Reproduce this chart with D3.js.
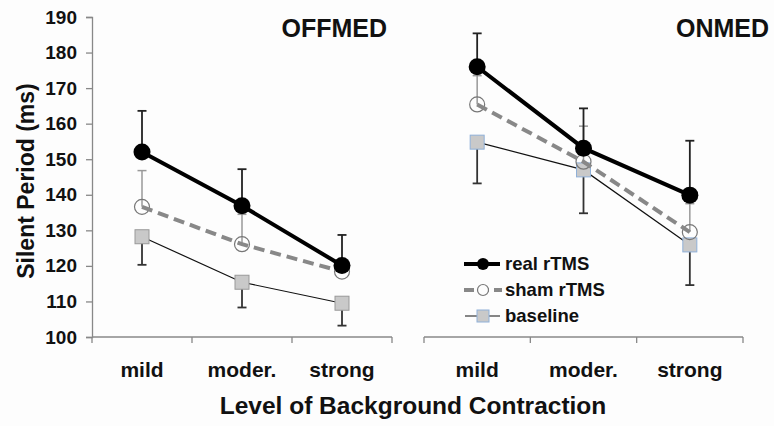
<!DOCTYPE html>
<html><head><meta charset="utf-8">
<script src="https://cdn.jsdelivr.net/npm/d3@7"></script>
<style>body{margin:0;background:#fdfdfd}svg{display:block}text{font-family:"Liberation Sans",Arial,sans-serif;font-weight:bold;fill:#111}</style>
</head><body><svg id="c" width="774" height="426"></svg>
<script>
const categories = ["mild","moder.","strong"];
const panels = ["OFFMED","ONMED"];
const yTicks = [100,110,120,130,140,150,160,170,180,190];
// OFFMED
const offReal = [152,136.9,120.1];
const offRealErr = [163.6,147.2,128.7];
const offSham = [136.6,126.1,118.4];
const offShamErr = [146.8,134.5,120.5];
const offBase = [128.2,115.4,109.5];
const offBaseErr = [120.3,108.3,103.2];
// ONMED
const onReal = [176,153.1,139.9];
const onRealErr = [185.4,164.3,155.2];
const onSham = [165.4,149.3,129.5];
const onShamErr = [173.5,159.3,137.5];
const onBase = [154.8,147,125.9];
const onBaseErr = [143.2,134.8,114.6];
const legendLabels = ["real rTMS","sham rTMS","baseline"];

const svg = d3.select("#c");
const y = d3.scaleLinear().domain([100,190]).range([337,17]);
const xL = d3.scaleBand().domain(categories).range([92,392]);
const xR = d3.scaleBand().domain(categories).range([424,743]);

// y axis
const ya = svg.append("g").attr("transform","translate(92,0)")
  .call(d3.axisLeft(y).tickValues(yTicks).tickSize(6).tickPadding(9).tickFormat(d3.format("d")));
ya.select(".domain").attr("stroke","#888").attr("stroke-width",1.3);
ya.selectAll(".tick line").attr("stroke","#888").attr("stroke-width",1.3);
ya.selectAll(".tick text").attr("font-size",19).style("font-weight","bold").attr("fill","#111");

function panel(x, title, titleRight, real, realErr, sham, shamErr, base, baseErr, baseStroke){
  const cx = d => x(d)+x.bandwidth()/2;
  const g = svg.append("g");
  const [r0,r1] = x.range();
  g.append("line").attr("x1",r0).attr("x2",r1).attr("y1",y(100)).attr("y2",y(100)).attr("stroke","#888").attr("stroke-width",1.3);
  const edges = categories.map(c=>x(c)).concat([r1]);
  g.selectAll(".bt").data(edges).enter().append("line")
   .attr("x1",d=>d).attr("x2",d=>d).attr("y1",y(100)).attr("y2",y(100)+6).attr("stroke","#888").attr("stroke-width",1.3);
  g.selectAll(".cl").data(categories).enter().append("text")
   .attr("x",cx).attr("y",377).attr("text-anchor","middle").attr("font-size",21).text(d=>d);
  g.append("text").attr("x",titleRight).attr("y",37).attr("text-anchor","end").attr("font-size",25).text(title);

  function err(vals, ends, color, w){
    g.selectAll(null).data(categories).enter().append("line")
     .attr("x1",cx).attr("x2",cx).attr("y1",(d,i)=>y(vals[i])).attr("y2",(d,i)=>y(ends[i]))
     .attr("stroke",color).attr("stroke-width",w);
    g.selectAll(null).data(categories).enter().append("line")
     .attr("x1",d=>cx(d)-4.5).attr("x2",d=>cx(d)+4.5).attr("y1",(d,i)=>y(ends[i])).attr("y2",(d,i)=>y(ends[i]))
     .attr("stroke",color).attr("stroke-width",w);
  }
  err(sham, shamErr, "#999", 1.5);
  err(real, realErr, "#222", 1.8);
  err(base, baseErr, "#333", 1.8);

  const line = vals => d3.line().x((d,i)=>cx(categories[i])).y(d=>y(d))(vals);
  g.append("path").attr("d",line(base)).attr("fill","none").attr("stroke","#111").attr("stroke-width",1.2);
  g.selectAll(null).data(base).enter().append("rect")
   .attr("x",(d,i)=>cx(categories[i])-7).attr("y",d=>y(d)-7).attr("width",14).attr("height",14)
   .attr("fill","#c9c9c9").attr("stroke",baseStroke).attr("stroke-width",1);
  g.selectAll(null).data(sham).enter().append("circle")
   .attr("cx",(d,i)=>cx(categories[i])).attr("cy",d=>y(d)).attr("r",7.5)
   .attr("fill","none").attr("stroke","#777").attr("stroke-width",1.2);
  g.append("path").attr("d",line(sham)).attr("fill","none").attr("stroke","#888").attr("stroke-width",4).attr("stroke-dasharray","11,6");
  g.append("path").attr("d",line(real)).attr("fill","none").attr("stroke","#000").attr("stroke-width",4);
  g.selectAll(null).data(real).enter().append("circle")
   .attr("cx",(d,i)=>cx(categories[i])).attr("cy",d=>y(d)).attr("r",8.5).attr("fill","#000");
}
panel(xL, panels[0], 387, offReal, offRealErr, offSham, offShamErr, offBase, offBaseErr, "#999");
panel(xR, panels[1], 769, onReal, onRealErr, onSham, onShamErr, onBase, onBaseErr, "#8fb0d8");

// legend
const lg = svg.append("g");
const ly = [264,290,316];
lg.append("line").attr("x1",464).attr("x2",500).attr("y1",ly[0]).attr("y2",ly[0]).attr("stroke","#000").attr("stroke-width",4);
lg.append("circle").attr("cx",483).attr("cy",ly[0]).attr("r",6).attr("fill","#000");
lg.append("line").attr("x1",464).attr("x2",502).attr("y1",ly[1]).attr("y2",ly[1]).attr("stroke","#888").attr("stroke-width",4).attr("stroke-dasharray","10,5");
lg.append("circle").attr("cx",483).attr("cy",ly[1]).attr("r",5.5).attr("fill","#fdfdfd").attr("stroke","#777").attr("stroke-width",1.2);
lg.append("line").attr("x1",465).attr("x2",500).attr("y1",ly[2]).attr("y2",ly[2]).attr("stroke","#111").attr("stroke-width",1.2);
lg.append("rect").attr("x",477).attr("y",ly[2]-6).attr("width",12).attr("height",12).attr("fill","#c9c9c9").attr("stroke","#8fb0d8");
lg.selectAll(null).data(legendLabels).enter().append("text")
  .attr("x",505).attr("y",(d,i)=>ly[i]+6).attr("font-size",18.5).text(d=>d);

// axis titles
svg.append("text").attr("x",413).attr("y",414).attr("text-anchor","middle").attr("font-size",24.5).text("Level of Background Contraction");
svg.append("text").attr("transform","translate(34,181) rotate(-90)").attr("text-anchor","middle").attr("font-size",23).text("Silent Period (ms)");
</script></body></html>
